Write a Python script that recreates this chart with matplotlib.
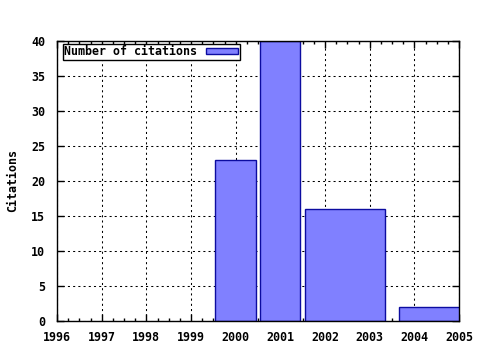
import matplotlib
matplotlib.use("Agg")
import matplotlib.pyplot as plt
from matplotlib.ticker import MultipleLocator

# Data
bar_start = [1999.53, 2000.54, 2001.55, 2003.66]
bar_end = [2000.46, 2001.44, 2003.35, 2005.40]
citations = [23, 40, 16, 2]
year_ticks = list(range(1996, 2006))
y_ticks = [0, 5, 10, 15, 20, 25, 30, 35, 40]

FS = 8.4
font = {"family": "DejaVu Sans Mono", "weight": "bold", "size": FS}

fig = plt.figure(figsize=(4.8, 3.5), dpi=100)
ax = fig.add_axes([57/480, 1 - 321/350, (459 - 57)/480, (321 - 41)/350])

widths = [e - s for s, e in zip(bar_start, bar_end)]
ax.bar(bar_start, citations, width=widths, align="edge",
       color="#8080ff", edgecolor="#0c0ca0", linewidth=1.0,
       label="Number of citations", zorder=3)

ax.set_xlim(1996, 2005)
ax.set_ylim(0, 40)
ax.set_xticks(year_ticks)
ax.set_yticks(y_ticks)
ax.xaxis.set_minor_locator(MultipleLocator(0.25))
ax.set_xticklabels([str(y) for y in year_ticks], fontdict=font)
ax.set_yticklabels([str(v) for v in y_ticks], fontdict=font)

ax.tick_params(which="both", direction="in", top=True, right=True, color="black")
ax.tick_params(axis="x", which="major", length=5, width=1, pad=7.5)
ax.tick_params(axis="y", which="major", length=5, width=1, pad=8.5)
ax.tick_params(which="minor", length=2.5, width=1)

ax.grid(True, which="major", color="black", linestyle=(0, (2, 3)), linewidth=0.75, zorder=0)
ax.set_axisbelow(True)
for s in ax.spines.values():
    s.set_linewidth(1.0)
    s.set_color("black")
    s.set_zorder(5)

ax.set_ylabel("Citations", fontdict=font)
ax.yaxis.set_label_coords(-0.093, 0.5)

leg = ax.legend(loc="upper left", bbox_to_anchor=(0.015, 0.99), markerfirst=False,
                prop={"family": "DejaVu Sans Mono", "weight": "bold", "size": FS},
                fancybox=False, framealpha=1, edgecolor="black",
                handlelength=2.8, handleheight=0.45, borderpad=0.12,
                borderaxespad=0.0, handletextpad=0.7)
leg.get_frame().set_linewidth(1.0)

fig.savefig("out.png", dpi=100)
